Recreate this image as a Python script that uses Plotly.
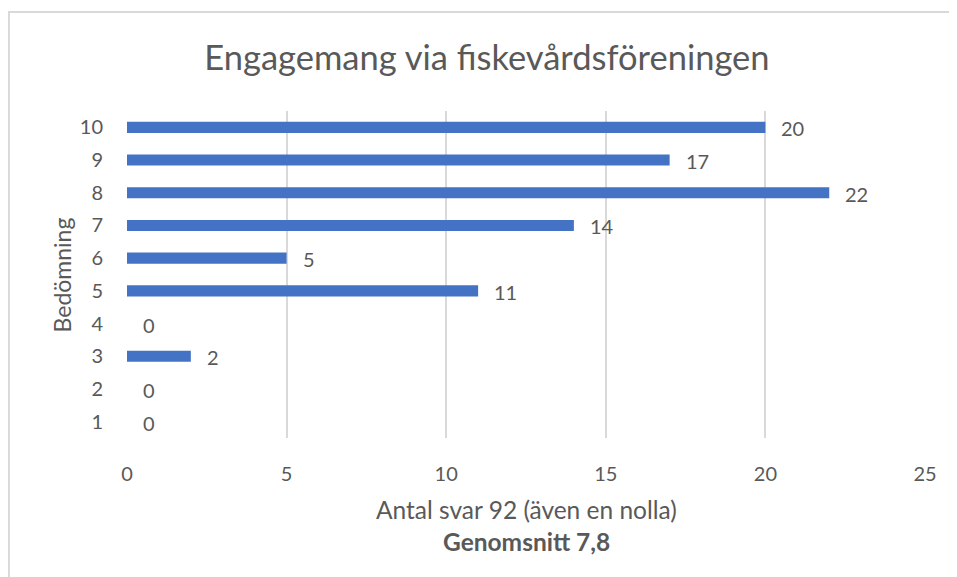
import plotly.graph_objects as go

categories = ["1", "2", "3", "4", "5", "6", "7", "8", "9", "10"]
values = [0, 0, 2, 0, 11, 5, 14, 22, 17, 20]
x_ticks = [0, 5, 10, 15, 20, 25]

title_text = "Engagemang via fiskevårdsföreningen"
x_title = "Antal svar 92 (även en nolla)"
x_subtitle = "Genomsnitt 7,8"
y_title = "Bedömning"

FONT = "Lato, Open Sans, sans-serif"
GREY = "#595959"

fig = go.Figure()
fig.add_trace(go.Bar(
    x=values, y=categories, orientation="h",
    marker=dict(color="#4472C4", line=dict(width=0)),
    width=0.34, hoverinfo="x+y",
))

# data labels (category axis positions by index)
for i, v in enumerate(values):
    fig.add_annotation(x=v, y=i, text=str(v), showarrow=False,
                       xanchor="left", xshift=14, yshift=-1,
                       font=dict(family=FONT, size=20, color=GREY))

fig.add_annotation(xref="paper", yref="paper", x=0.5, y=-0.22,
                   text=x_title, showarrow=False, yanchor="middle",
                   font=dict(family=FONT, size=24.5, color=GREY))
fig.add_annotation(xref="paper", yref="paper", x=0.5, y=-0.317,
                   text="<b>" + x_subtitle + "</b>", showarrow=False, yanchor="middle",
                   font=dict(family=FONT, size=24.5, color=GREY))
fig.add_annotation(xref="paper", yref="paper", x=-0.0815, y=0.5,
                   text=y_title, showarrow=False, textangle=-90,
                   xanchor="center", yanchor="middle",
                   font=dict(family=FONT, size=23, color=GREY))

# outer chart border
fig.add_shape(type="rect", xref="paper", yref="paper",
              x0=-0.148, x1=1.1, y0=-0.5, y1=1.3028,
              line=dict(color="#D9D9D9", width=2), layer="below")

fig.update_layout(
    width=949, height=569,
    margin=dict(l=119, r=32, t=103, b=139),
    paper_bgcolor="white", plot_bgcolor="white",
    title=dict(text=title_text, x=0.5047, xanchor="center", xref="container",
               y=0.912, yanchor="middle",
               font=dict(family=FONT, size=34.5, color=GREY)),
    showlegend=False,
    xaxis=dict(range=[0, 25], tickvals=x_ticks, showgrid=True, gridcolor="#D9D9D9",
               gridwidth=1.5, zeroline=False, showline=False,
               ticks="outside", ticklen=18, tickcolor="rgba(0,0,0,0)",
               tickfont=dict(family=FONT, size=20, color=GREY)),
    yaxis=dict(showgrid=False, zeroline=False, showline=False,
               range=[-0.5, 9.5],
               categoryorder="array", categoryarray=categories,
               ticks="outside", ticklen=19, tickcolor="rgba(0,0,0,0)",
               tickfont=dict(family=FONT, size=20, color=GREY)),
)

fig.write_html("out.html")
